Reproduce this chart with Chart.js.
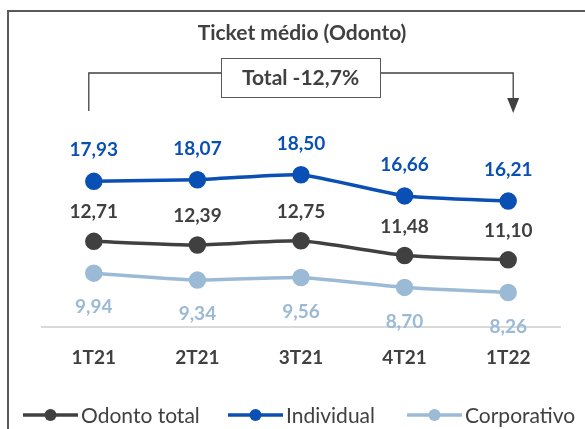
<!DOCTYPE html>
<html>
<head>
<meta charset="utf-8">
<script src="https://cdn.jsdelivr.net/npm/chart.js@4"></script>
<style>
  html, body { margin: 0; padding: 0; background: #fff; }
  #wrap { width: 585px; height: 429px; position: relative; }
</style>
</head>
<body>
<div id="wrap"><canvas id="ticketChart"></canvas></div>
<script>
// data
const quarters = ["1T21", "2T21", "3T21", "4T21", "1T22"];
const odontoTotal = [12.71, 12.39, 12.75, 11.48, 11.10];
const individual = [17.93, 18.07, 18.50, 16.66, 16.21];
const corporativo = [9.94, 9.34, 9.56, 8.70, 8.26];
const chartTitle = "Ticket médio (Odonto)";
const totalNote = "Total -12,7%";

const FONT = "Lato";
const DARK = "#404040";
const BLUE = "#0a50b4";
const LIGHT = "#9bbad6";

const fmt = (v) => v.toFixed(2).replace(".", ",");

// draws frame, title, bracket annotation, value labels, legend
const decorPlugin = {
  id: "decor",
  afterDraw(chart) {
    const ctx = chart.ctx;
    const x = chart.scales.x;
    ctx.save();

    // outer frame (continues past right/bottom edges)
    ctx.strokeStyle = "#595959";
    ctx.lineWidth = 2;
    ctx.strokeRect(8, 11, 700, 600);

    // title
    ctx.fillStyle = DARK;
    ctx.font = "bold 21px " + FONT;
    ctx.textAlign = "center";
    ctx.textBaseline = "middle";
    ctx.fillText(chartTitle, 302, 33);

    // bracket with box
    const xl = x.getPixelForValue(0) - 5;
    const xr = x.getPixelForValue(quarters.length - 1) + 5;
    const yb = 73;
    const boxL = 221, boxR = 380, boxT = 58, boxB = 97;
    ctx.strokeStyle = DARK;
    ctx.lineWidth = 1.3;
    ctx.beginPath();
    ctx.moveTo(xl, 111);
    ctx.lineTo(xl, yb);
    ctx.lineTo(boxL, yb);
    ctx.moveTo(boxR, yb);
    ctx.lineTo(xr, yb);
    ctx.lineTo(xr, 100);
    ctx.stroke();
    ctx.fillStyle = DARK;
    ctx.beginPath();
    ctx.moveTo(xr - 6, 98);
    ctx.lineTo(xr + 6, 98);
    ctx.lineTo(xr, 113);
    ctx.closePath();
    ctx.fill();
    ctx.fillStyle = "#fff";
    ctx.fillRect(boxL, boxT, boxR - boxL, boxB - boxT);
    ctx.strokeStyle = "#595959";
    ctx.lineWidth = 1;
    ctx.strokeRect(boxL + 0.5, boxT + 0.5, boxR - boxL, boxB - boxT);
    ctx.fillStyle = DARK;
    ctx.font = "bold 21px " + FONT;
    ctx.fillText(totalNote, (boxL + boxR) / 2, (boxT + boxB) / 2 + 1);

    // value labels
    ctx.font = "bold 19px " + FONT;
    chart.data.datasets.forEach((ds, i) => {
      const meta = chart.getDatasetMeta(i);
      meta.data.forEach((pt, j) => {
        ctx.fillStyle = ds.labelColor;
        ctx.fillText(fmt(ds.data[j]), pt.x, pt.y + ds.labelOffset);
      });
    });

    // legend
    const legendY = 415;
    const items = [
      { ds: chart.data.datasets[0], x: 23 },
      { ds: chart.data.datasets[1], x: 228 },
      { ds: chart.data.datasets[2], x: 407 },
    ];
    ctx.textAlign = "left";
    ctx.font = "21px " + FONT;
    items.forEach((it) => {
      ctx.strokeStyle = it.ds.borderColor;
      ctx.lineWidth = 3.5;
      ctx.beginPath();
      ctx.moveTo(it.x, legendY);
      ctx.lineTo(it.x + 55, legendY);
      ctx.stroke();
      ctx.fillStyle = it.ds.borderColor;
      ctx.beginPath();
      ctx.arc(it.x + 27.5, legendY, 6, 0, Math.PI * 2);
      ctx.fill();
      ctx.fillStyle = DARK;
      ctx.fillText(it.ds.label, it.x + 58, legendY + 1);
    });

    ctx.restore();
  },
};

function makeSeries(label, data, color, labelColor, labelOffset) {
  return {
    label,
    data,
    borderColor: color,
    backgroundColor: color,
    pointBackgroundColor: color,
    pointBorderColor: color,
    borderWidth: 3.5,
    pointRadius: 7,
    pointHoverRadius: 7,
    tension: 0.15,
    labelColor,
    labelOffset,
  };
}

new Chart(document.getElementById("ticketChart"), {
  type: "line",
  data: {
    labels: quarters,
    datasets: [
      makeSeries("Odonto total", odontoTotal, DARK, DARK, -29),
      makeSeries("Individual", individual, BLUE, BLUE, -31),
      makeSeries("Corporativo", corporativo, LIGHT, LIGHT, 34),
    ],
  },
  options: {
    responsive: true,
    maintainAspectRatio: false,
    animation: false,
    layout: { padding: { left: 42, right: 25, top: 155, bottom: 49 } },
    plugins: {
      legend: { display: false },
      title: { display: false },
      tooltip: { enabled: false },
    },
    scales: {
      x: {
        offset: true,
        grid: { display: false },
        border: { display: true, color: "#d9d9d9", width: 2 },
        ticks: {
          color: DARK,
          padding: 11,
          font: { family: FONT, size: 19, weight: "bold" },
        },
      },
      y: {
        display: false,
        min: 5.24,
        max: 20.22,
      },
    },
  },
  plugins: [decorPlugin],
});
</script>
</body>
</html>
